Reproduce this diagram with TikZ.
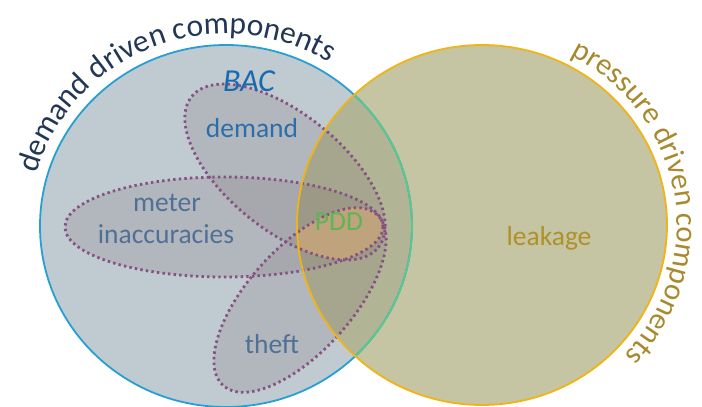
\documentclass[tikz,border=0pt]{standalone}
\usepackage{fontspec}
\setmainfont{Carlito}
\usetikzlibrary{decorations.text}
\definecolor{leftfill}{RGB}{191,202,209}
\definecolor{rightfill}{RGB}{172,171,124}
\definecolor{ellfill}{RGB}{122,108,112}
\definecolor{dotcol}{RGB}{135,80,130}
\definecolor{bluestroke}{RGB}{38,160,212}
\definecolor{greenstroke}{RGB}{90,200,140}
\definecolor{goldstroke}{RGB}{240,180,20}
\definecolor{navytext}{RGB}{33,55,85}
\definecolor{goldtext}{RGB}{168,138,45}
\definecolor{bactext}{RGB}{25,105,175}
\definecolor{labelblue}{RGB}{80,112,150}
\definecolor{demandblue}{RGB}{45,110,170}
\definecolor{pddgreen}{RGB}{95,180,85}
\definecolor{leaktext}{RGB}{175,145,40}
\definecolor{pddfill}{RGB}{250,190,120}
\begin{document}
\begin{tikzpicture}[x=1pt,y=1pt,
  lbl/.style={font=\fontsize{27.5}{30}\selectfont, anchor=base, inner sep=0pt},
  dotell/.style={draw=dotcol, line width=2.8pt, dash pattern=on 2.4pt off 3.2pt},
  ellbg/.style={fill=ellfill, fill opacity=0.2},
  ring/.style={line width=1.8pt}
]
\useasboundingbox (0,0) rectangle (702,407);
\clip (0,0) rectangle (702,407);
\coordinate (LC) at (226,181);
\coordinate (RC) at (482,182);
% circle fills
\fill[leftfill] (LC) ellipse [x radius=186, y radius=181];
\fill[rightfill, fill opacity=0.7] (RC) ellipse [x radius=185, y radius=180];
% ellipse fills
\fill[ellbg, rotate around={-39:(285,235)}] (285,235) ellipse [x radius=120, y radius=58];
\fill[ellbg] (224,180) ellipse [x radius=159, y radius=50];
\fill[ellbg, rotate around={48:(300,107)}] (300,107) ellipse [x radius=115, y radius=52];
% PDD region
\begin{scope}
\clip[rotate around={-39:(285,235)}] (285,235) ellipse [x radius=120, y radius=58];
\clip (224,180) ellipse [x radius=159, y radius=50];
\clip (RC) ellipse [x radius=185, y radius=180];
\fill[pddfill, fill opacity=0.42, rotate around={48:(300,107)}] (300,107) ellipse [x radius=115, y radius=52];
\end{scope}
% dotted outlines
\draw[dotell, rotate around={-39:(285,235)}] (285,235) ellipse [x radius=120, y radius=58];
\draw[dotell] (224,180) ellipse [x radius=159, y radius=50];
\draw[dotell, rotate around={48:(300,107)}] (300,107) ellipse [x radius=115, y radius=52];
% circle strokes
\draw[ring, bluestroke] (LC) ellipse [x radius=186, y radius=181];
\begin{scope}
\clip (RC) ellipse [x radius=185, y radius=180];
\draw[ring, greenstroke] (LC) ellipse [x radius=186, y radius=181];
\end{scope}
\draw[ring, goldstroke] (RC) ellipse [x radius=185, y radius=180];
% labels
\node[lbl, text=bactext, font=\fontsize{32}{34}\selectfont\itshape] (bac) at (249,315) {BAC};
\node[lbl, text=demandblue] (demand) at (252,269) {demand};
\node[lbl, text=labelblue] (meter) at (167,195) {meter};
\node[lbl, text=labelblue] (inacc) at (166,163) {inaccuracies};
\node[lbl, text=labelblue] (theft) at (272,53) {theft};
\node[lbl, text=pddgreen] (pdd) at (339,176) {PDD};
\node[lbl, text=leaktext] (leak) at (549,161) {leakage};
% curved titles
\path[decorate, decoration={text along path, text align=center,
  text={|\fontsize{31.5}{32}\selectfont\color{navytext}|demand driven components}}]
  (LC) ++(178:197 and 192) arc[start angle=178, end angle=45, x radius=197, y radius=192];
\path[decorate, decoration={text along path, text align=center,
  text={|\fontsize{30.5}{32}\selectfont\color{goldtext}|pressure driven components}}]
  (RC) ++(70:195 and 190) arc[start angle=70, end angle=-50, x radius=195, y radius=190];
\end{tikzpicture}
\end{document}
